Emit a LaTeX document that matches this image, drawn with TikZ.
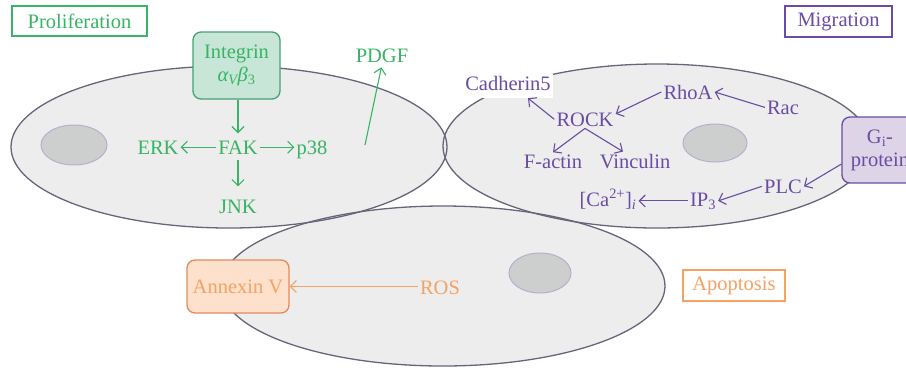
\documentclass[tikz,border=0pt]{standalone}
\usepackage{fontspec}
\setmainfont{Liberation Serif}
\usetikzlibrary{arrows.meta}
\definecolor{pgreen}{RGB}{55,180,100}
\definecolor{pgreenfill}{RGB}{200,230,215}
\definecolor{pgreenedge}{RGB}{72,160,118}
\definecolor{ppurple}{RGB}{106,76,164}
\definecolor{ppurplefill}{RGB}{221,212,232}
\definecolor{porange}{RGB}{245,162,99}
\definecolor{porangefill}{RGB}{253,225,205}
\definecolor{porangeedge}{RGB}{225,138,92}
\definecolor{cellfill}{RGB}{237,237,237}
\definecolor{celledge}{RGB}{105,100,122}
\definecolor{nucfill}{RGB}{205,206,206}
\definecolor{nucedge}{RGB}{182,176,206}
\tikzset{
  txt/.style={inner sep=2pt, anchor=base},
  labelbox/.style={draw, line width=1.1pt, fill=white, inner sep=2pt},
  molbox/.style={draw, line width=1.3pt, rounded corners=8pt, align=center, inner sep=2pt},
  arr/.style={-{Straight Barb[length=6pt,width=12pt]}, line width=1.1pt},
  celloutline/.style={draw=celledge, line width=1.3pt},
  nucleus/.style={fill=nucfill, draw=nucedge, line width=1pt}
}
\begin{document}
\begin{tikzpicture}[x=1pt,y=-1pt,font=\fontsize{20.5}{23}\selectfont]
\useasboundingbox (0,0) rectangle (906,368);
\begin{scope}
\clip (0,0) rectangle (906,368);
% cells
\fill[cellfill] (229,147) ellipse [x radius=218, y radius=81];
\fill[cellfill] (657,146) ellipse [x radius=214, y radius=82];
\fill[cellfill] (443,286) ellipse [x radius=222, y radius=80];
\draw[celloutline] (229,147) ellipse [x radius=218, y radius=81];
\draw[celloutline] (657,146) ellipse [x radius=214, y radius=82];
\draw[celloutline] (443,286) ellipse [x radius=222, y radius=80];
% nuclei
\draw[nucleus] (74,145) ellipse [x radius=33, y radius=20];
\draw[nucleus] (715,143) ellipse [x radius=32, y radius=19];
\draw[nucleus] (540,273) ellipse [x radius=31, y radius=20];

% labels
\node[labelbox, draw=pgreen, text=pgreen, minimum width=135pt, minimum height=30pt] (prolif) at (79.5,21) {Proliferation};
\node[labelbox, draw=ppurple, text=ppurple, minimum width=107pt, minimum height=31pt] (migr) at (838.5,21.5) {Migration};
\node[labelbox, draw=porange, text=porange, minimum width=102pt, minimum height=31pt] (apop) at (734,285.5) {Apoptosis};

% proliferation
\node[molbox, draw=pgreenedge, fill=pgreenfill, text=pgreen, minimum width=87pt, minimum height=67pt] (integ) at (236.5,65.5) {Integrin\\{\itshape α}\textsubscript{\itshape V}{\itshape β}\textsubscript{3}};
\node[txt, text=pgreen] (fak) at (238,154) {FAK};
\node[txt, text=pgreen] (erk) at (158,154) {ERK};
\node[txt, text=pgreen] (p38) at (312,154) {p38};
\node[txt, text=pgreen] (jnk) at (238,213) {JNK};
\node[txt, text=pgreen] (pdgf) at (382,62) {PDGF};
\coordinate (pdgfsrc) at (365,145);
\draw[arr, pgreen, shorten >=5pt] (integ.south -| fak.north) -- (fak.north);
\draw[arr, pgreen] (fak.west) -- (erk.east |- fak.west);
\draw[arr, pgreen] (fak.east) -- (p38.west |- fak.east);
\draw[arr, pgreen, shorten <=4pt, shorten >=11pt] (fak.south) -- (jnk.north);
\draw[arr, pgreen, shorten >=3pt] (pdgfsrc) -- (pdgf.south);

% migration
\node[txt, text=ppurple, fill=white, text depth=6pt] (cad) at (508,90) {Cadherin5};
\node[txt, text=ppurple] (rock) at (585,126) {ROCK};
\node[txt, text=ppurple] (rhoa) at (688,99) {RhoA};
\node[txt, text=ppurple] (rac) at (783,114) {Rac};
\node[txt, text=ppurple] (factin) at (553,168) {F-actin};
\node[txt, text=ppurple] (vinc) at (635,168) {Vinculin};
\node[txt, text=ppurple] (plc) at (783,193) {PLC};
\node[txt, text=ppurple] (ip3) at (703,206) {IP\textsubscript{3}};
\node[txt, text=ppurple] (ca) at (608,206) {[Ca\textsuperscript{2+}]\textsubscript{\itshape i}};
\node[molbox, draw=ppurple, fill=ppurplefill, text=ppurple, minimum width=76pt, minimum height=66pt] (gi) at (880,150) {G\textsubscript{i}-\\protein};
\draw[arr, ppurple] (rhoa.west) -- (rock.10);
\draw[arr, ppurple] (rac.west) -- (rhoa.east);
\draw[arr, ppurple] (rock.west) -- ([xshift=20pt]cad.south);
\draw[arr, ppurple] (rock.south) -- (factin.north);
\draw[arr, ppurple] (rock.south) -- ([xshift=-12pt]vinc.north);
\draw[arr, ppurple] (gi.200) -- (plc.east);
\draw[arr, ppurple] (plc.west) -- (ip3.east);
\draw[arr, ppurple] (ip3.west) -- (ca.east |- ip3.west);

% apoptosis
\node[molbox, draw=porangeedge, fill=porangefill, text=porange, minimum width=102pt, minimum height=53pt] (annex) at (238,286.5) {Annexin V};
\node[txt, text=porange] (ros) at (440,294) {ROS};
\draw[arr, porange] (ros.west |- annex.east) -- (annex.east);
\end{scope}
\end{tikzpicture}
\end{document}
